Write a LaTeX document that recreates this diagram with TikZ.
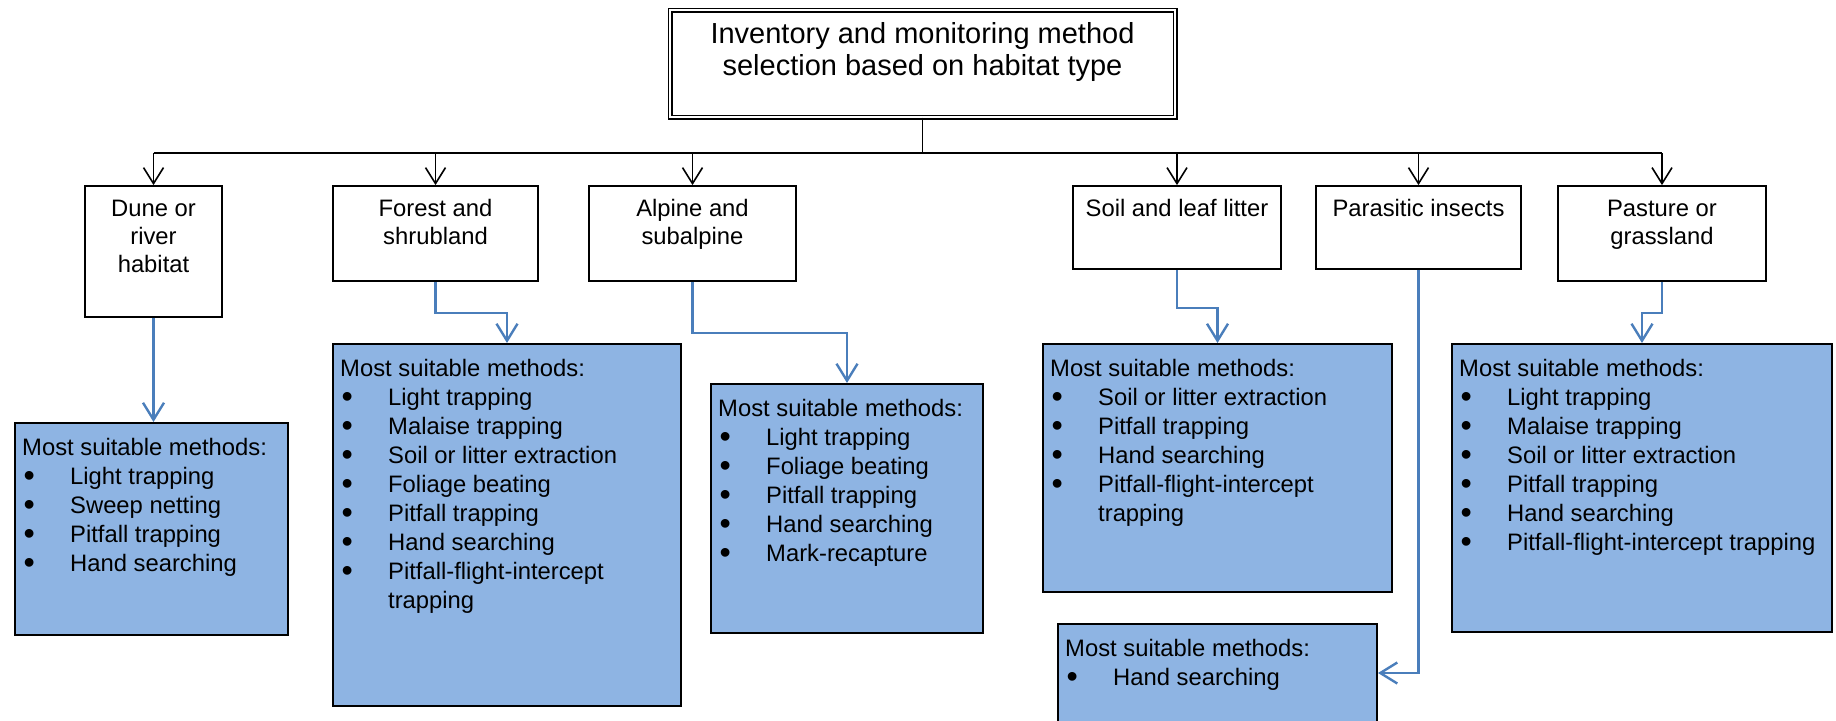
\documentclass[tikz,border=0pt]{standalone}
\usepackage{fontspec}
\usepackage{graphicx}
\setmainfont{Liberation Sans}
\usetikzlibrary{arrows.meta}

\definecolor{listfill}{HTML}{8EB4E3}
\definecolor{linkblue}{HTML}{4A7EBB}

% type sizes for the three kinds of text
\newcommand\titlesize{\fontsize{29}{32.5}\selectfont}
\newcommand\habsize{\fontsize{23.8}{27.8}\selectfont}
\newcommand\listsize{\fontsize{23.8}{29}\selectfont}
% fixed height for the first line, so the text block top is predictable
\newcommand\firstline{\rule{0pt}{20pt}}
% bullet with hanging indent, and the indent for a wrapped item
\newcommand\bul{\makebox[48pt][l]{\hspace{1.5pt}\raisebox{-0.09em}{\scalebox{1.35}{\textbullet}}}}
\newcommand\cont{\hspace*{48pt}}

\begin{document}
\begin{tikzpicture}[x=1pt,y=-1pt,
  titlebox/.style={draw, double, double distance=2.4pt, line width=1.3pt, fill=white, inner sep=0pt},
  habbox/.style={draw, line width=1.8pt, fill=white, inner sep=0pt},
  listbox/.style={draw, line width=2pt, fill=listfill, inner sep=0pt},
  habtext/.style={font=\habsize, align=center, inner sep=0pt, anchor=north},
  listtext/.style={font=\listsize, align=left, inner sep=0pt, anchor=north west},
  busline/.style={line width=1.9pt},
  droparrow/.style={line width=1.6pt, -{Straight Barb[length=16pt,width=20pt]}},
  methodlink/.style={line width=2.4pt, draw=linkblue, -{Straight Barb[length=17pt,width=21pt]}},
]
\useasboundingbox[fill=white] (0,0) rectangle (1836,720);

% ---- root
\node[titlebox, minimum width=505pt, minimum height=107pt] (title) at (922.5,63.5) {};
\node[font=\titlesize, align=center, inner sep=0pt, anchor=north] (titletxt) at (922.5,19)
  {\rule{0pt}{24pt}Inventory and monitoring method\\selection based on habitat type};

% ---- habitat boxes
\node[habbox, minimum width=137pt, minimum height=131pt] (dune)    at (153.5,251.5) {};
\node[habbox, minimum width=205pt, minimum height=95pt]  (forest)  at (435.5,233.5) {};
\node[habbox, minimum width=207pt, minimum height=95pt]  (alpine)  at (692.5,233.5) {};
\node[habbox, minimum width=208pt, minimum height=83pt]  (soil)    at (1177,227.5) {};
\node[habbox, minimum width=205pt, minimum height=83pt]  (para)    at (1418.5,227.5) {};
\node[habbox, minimum width=208pt, minimum height=95pt]  (pasture) at (1662,233.5) {};

\node[habtext] (dunetxt)    at ([yshift=-11.5pt]dune.north)    {\firstline Dune or\\river\\habitat};
\node[habtext] (foresttxt)  at ([yshift=-11.5pt]forest.north)  {\firstline Forest and\\shrubland};
\node[habtext] (alpinetxt)  at ([yshift=-11.5pt]alpine.north)  {\firstline Alpine and\\subalpine};
\node[habtext] (soiltxt)    at ([yshift=-11.5pt]soil.north)    {\firstline Soil and leaf litter};
\node[habtext] (paratxt)    at ([yshift=-11.5pt]para.north)    {\firstline Parasitic insects};
\node[habtext] (pasturetxt) at ([yshift=-11.5pt]pasture.north) {\firstline Pasture or\\grassland};

% ---- method lists
\node[listbox, minimum width=273pt, minimum height=212pt] (dunelist)    at (151.5,529) {};
\node[listbox, minimum width=348pt, minimum height=362pt] (forestlist)  at (507,525) {};
\node[listbox, minimum width=272pt, minimum height=249pt] (alpinelist)  at (847,508.5) {};
\node[listbox, minimum width=349pt, minimum height=248pt] (soillist)    at (1217.5,468) {};
\node[listbox, minimum width=319pt, minimum height=98pt]  (paralist)    at (1217.5,673) {};
\node[listbox, minimum width=380pt, minimum height=288pt] (pasturelist) at (1642,488) {};

\node[listtext] (dunelisttxt) at ([xshift=8pt,yshift=-13pt]dunelist.north west)
  {\firstline Most suitable methods:\\\bul Light trapping\\\bul Sweep netting\\
   \bul Pitfall trapping\\\bul Hand searching};
\node[listtext] (forestlisttxt) at ([xshift=8pt,yshift=-13pt]forestlist.north west)
  {\firstline Most suitable methods:\\\bul Light trapping\\\bul Malaise trapping\\
   \bul Soil or litter extraction\\\bul Foliage beating\\\bul Pitfall trapping\\
   \bul Hand searching\\\bul Pitfall-flight-intercept\\\cont trapping};
\node[listtext] (alpinelisttxt) at ([xshift=8pt,yshift=-13pt]alpinelist.north west)
  {\firstline Most suitable methods:\\\bul Light trapping\\\bul Foliage beating\\
   \bul Pitfall trapping\\\bul Hand searching\\\bul Mark-recapture};
\node[listtext] (soillisttxt) at ([xshift=8pt,yshift=-13pt]soillist.north west)
  {\firstline Most suitable methods:\\\bul Soil or litter extraction\\\bul Pitfall trapping\\
   \bul Hand searching\\\bul Pitfall-flight-intercept\\\cont trapping};
\node[listtext] (paralisttxt) at ([xshift=8pt,yshift=-13pt]paralist.north west)
  {\firstline Most suitable methods:\\\bul Hand searching};
\node[listtext] (pasturelisttxt) at ([xshift=8pt,yshift=-13pt]pasturelist.north west)
  {\firstline Most suitable methods:\\\bul Light trapping\\\bul Malaise trapping\\
   \bul Soil or litter extraction\\\bul Pitfall trapping\\\bul Hand searching\\
   \bul Pitfall-flight-intercept trapping};

% ---- tree connectors
\coordinate (bus) at (922.5,153);
\draw[busline] (title.south) -- (bus);
\draw[busline] (dune.north |- bus) -- (pasture.north |- bus);
\foreach \b in {dune,forest,alpine,soil,para,pasture}
  \draw[droparrow] (\b.north |- bus) -- (\b.north);

% ---- habitat to method links
\draw[methodlink] (dune.south) -- (dune.south |- dunelist.north);
\draw[methodlink] (forest.south) -- ++(0,31) -| (forestlist.north);
\draw[methodlink] (alpine.south) -- ++(0,51) -| (alpinelist.north);
\draw[methodlink] (soil.south) -- ++(0,38) -| (soillist.north);
\draw[methodlink] (para.south) |- (paralist.east);
\draw[methodlink] (pasture.south) -- ++(0,31) -| (pasturelist.north);
\end{tikzpicture}
\end{document}
